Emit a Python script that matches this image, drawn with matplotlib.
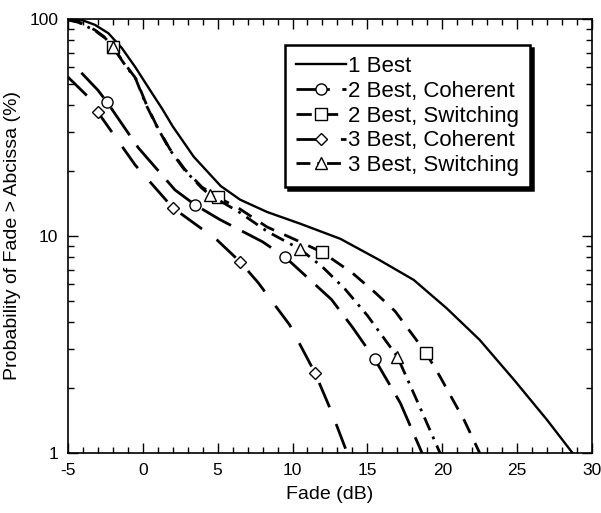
import matplotlib
matplotlib.use("Agg")
import matplotlib.pyplot as plt
from matplotlib.ticker import MultipleLocator, FixedLocator, FixedFormatter, LogLocator, NullFormatter

plt.rcParams['font.family'] = ['Liberation Sans', 'DejaVu Sans']
plt.rcParams['lines.scale_dashes'] = False
plt.rcParams['axes.unicode_minus'] = False

# 1 Best
x_1b = [-5, -4, -3.2, -2.3, -1.4, -0.5, 0.4, 1.3, 2.0, 3.4, 5.2, 6.5, 8.3, 10.5,
        13.2, 15.8, 18.1, 20.3, 22.5, 24.8, 27.0, 28.7]
y_1b = [100, 98.5, 94, 86, 73.5, 60, 48, 38.5, 32, 23.2, 17, 14.7, 12.9, 11.4,
        9.7, 7.75, 6.27, 4.64, 3.32, 2.17, 1.42, 1.0]

# 2 Best, Coherent
x_2c = [-4.1, -3.0, -2.4, -0.3, 2.15, 3.5, 5.15, 8.0, 9.5, 12.6, 14.0, 15.5, 17.2, 18.65]
y_2c = [56.5, 47, 41.5, 25.5, 16.3, 13.9, 11.9, 9.4, 8.0, 5.1, 3.8, 2.7, 1.7, 1.0]
mk_2c = [2, 5, 8, 11]

# 2 Best, Switching
x_2s = [-5, -4.3, -3.2, -2.5, -2.0, -1.3, -0.45, 0.2, 0.9, 1.8, 2.8, 3.95, 5.0, 6.5,
        8.3, 10.5, 12.0, 14.0, 15.5, 16.85, 18.9, 19.85, 21.5, 22.5]
y_2s = [99.5, 97, 89, 82, 74, 63.5, 53, 41, 32.5, 25.2, 20.3, 16.8, 15.1, 13.3,
        11.0, 9.4, 8.4, 6.75, 5.5, 4.5, 2.9, 2.25, 1.4, 1.0]
mk_2s = [4, 12, 16, 20]

# 3 Best, Coherent
x_3c = [-5, -3.65, -3.0, -0.5, 2.0, 4.95, 6.5, 7.7, 9.8, 11.5, 12.6, 13.65]
y_3c = [54, 43.8, 37.2, 21.2, 13.5, 9.6, 7.6, 6.1, 3.9, 2.34, 1.55, 1.0]
mk_3c = [2, 4, 6, 9]

# 3 Best, Switching
x_3s = [-5, -4.3, -3.2, -2.5, -2.0, -1.3, -0.45, 0.2, 0.9, 1.8, 2.8, 3.95, 4.5, 6.5,
        8.3, 10.5, 12.0, 13.5, 15.0, 17.0, 18.5, 19.85]
y_3s = [99, 96.5, 88.5, 81.5, 74.5, 63, 52.5, 40.5, 32.3, 25, 20.1, 16.6, 15.45, 12.8,
        10.5, 8.7, 7.2, 5.7, 4.3, 2.78, 1.63, 1.0]
mk_3s = [4, 12, 15, 19]

fig = plt.figure(figsize=(6.01, 5.13), dpi=100)
ax = fig.add_axes([0.113, 0.117, 0.872, 0.846])

mstyle = dict(color='black', markerfacecolor='white', markeredgecolor='black',
              markersize=8, markeredgewidth=1)

ax.plot(x_1b, y_1b, color='black', lw=1.7, label='1 Best')
ax.plot(x_2c, y_2c, ls=(0, (24, 9)), lw=2, marker='o', markevery=mk_2c,
        label='2 Best, Coherent', **mstyle)
ax.plot(x_2s, y_2s, ls=(0, (11, 8)), lw=2, marker='s', markevery=mk_2s,
        label='2 Best, Switching', **mstyle)
ax.plot(x_3c, y_3c, ls=(0, (19, 13)), lw=2, marker='D', markevery=mk_3c,
        label='3 Best, Coherent', **dict(mstyle, markersize=6.5))
ax.plot(x_3s, y_3s, ls=(0, (10, 5, 2, 5)), lw=2, marker='^', markevery=mk_3s,
        label='3 Best, Switching', **mstyle)

ax.set_yscale('log')
ax.set_xlim(-5, 30)
ax.set_ylim(1, 100)

ax.xaxis.set_major_locator(MultipleLocator(5))
ax.xaxis.set_minor_locator(MultipleLocator(1))
ax.yaxis.set_major_locator(FixedLocator([1, 10, 100]))
ax.yaxis.set_major_formatter(FixedFormatter(['1', '10', '100']))
ax.yaxis.set_minor_locator(LogLocator(base=10, subs=range(2, 10)))
ax.yaxis.set_minor_formatter(NullFormatter())

ax.tick_params(which='both', direction='in', top=True, right=True, labelsize=12.5, width=1)
ax.tick_params(which='major', length=7, pad=7)
ax.tick_params(which='minor', length=4)
for s in ax.spines.values():
    s.set_linewidth(1.2)

ax.set_xlabel('Fade (dB)', fontsize=14, labelpad=6)
ax.set_ylabel('Probability of Fade > Abcissa (%)', fontsize=14, labelpad=6)

leg = ax.legend(loc='upper left', bbox_to_anchor=(0.414, 0.94), borderaxespad=0,
                fontsize=16, numpoints=1, handlelength=2.25, handletextpad=0.1,
                labelspacing=0.17, borderpad=0.5, fancybox=False, edgecolor='black',
                shadow={'color': 'black', 'alpha': 1})
leg.get_frame().set_linewidth(1.8)

fig.savefig('out.png', dpi=100)
